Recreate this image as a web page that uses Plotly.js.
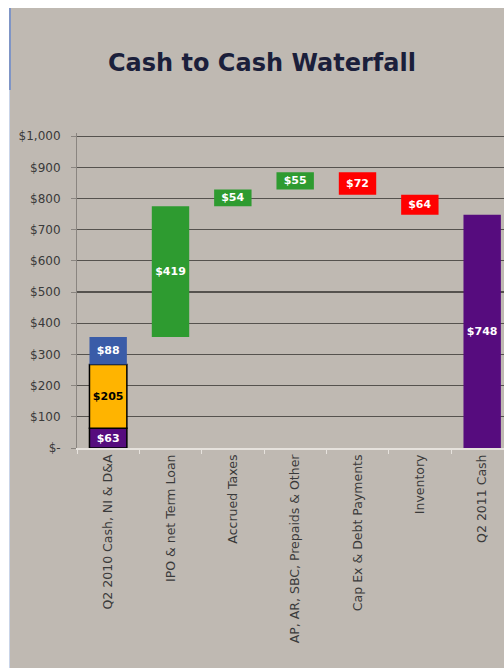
<!DOCTYPE html>
<html>
<head>
<meta charset="utf-8">
<script src="https://cdn.plot.ly/plotly-3.0.1.min.js"></script>
<style>
  html, body { margin: 0; padding: 0; background: #ffffff; width: 504px; height: 668px; overflow: hidden; }
  #frame { position: absolute; left: 9px; top: 8px; width: 495px; height: 660px; background: #bfb9b2; border-left: 1px solid #c9d4e8; }
  #accent { position: absolute; left: 9px; top: 8px; width: 2px; height: 82px; background: #7f95c6; }
  #chart { position: absolute; left: 10px; top: 8px; width: 494px; height: 660px; }
</style>
</head>
<body>
<div id="frame"></div>
<div id="chart"></div>
<div id="accent"></div>
<script>
// ---- data ----
const categories = [
  "Q2 2010 Cash, NI & D&A",
  "IPO & net Term Loan",
  "Accrued Taxes",
  "AP, AR, SBC, Prepaids & Other",
  "Cap Ex & Debt Payments",
  "Inventory",
  "Q2 2011 Cash"
];
const startSegments = [63, 205, 88];          // purple, orange, blue stacked in first column
const startColors = ["#560c7e", "#ffb400", "#3a5ca8"];
const changes = [419, 54, 55, -72, -64];      // columns 2..6
const endCash = 748;                          // last column
const yTickVals = [0, 100, 200, 300, 400, 500, 600, 700, 800, 900, 1000];
const yTickText = ["$-", "$100", "$200", "$300", "$400", "$500", "$600", "$700", "$800", "$900", "$1,000"];

const FONT = "DejaVu Sans, Verdana, sans-serif";
const fmt = v => "$" + Math.abs(v);
const traces = [];

// first stacked column
let run = 0;
startSegments.forEach((v, i) => {
  traces.push({
    type: "bar", x: [categories[0]], y: [v], base: [run],
    marker: { color: startColors[i], line: { color: i < 2 ? "#000000" : startColors[i], width: i < 2 ? 1.5 : 0 } },
    text: [fmt(v)], textposition: "inside", insidetextanchor: "middle", constraintext: "none",
    textfont: { color: i === 1 ? "#000000" : "#ffffff", size: 11, family: FONT, weight: 700 },
    width: 0.6, hoverinfo: "skip"
  });
  run += v;
});

// change columns
const upX = [], upY = [], upB = [], dnX = [], dnY = [], dnB = [];
changes.forEach((v, i) => {
  const cat = categories[i + 1];
  if (v >= 0) { upX.push(cat); upY.push(v); upB.push(run); }
  else { dnX.push(cat); dnY.push(-v); dnB.push(run + v); }
  run += v;
});
const common = {
  type: "bar", textposition: "inside", insidetextanchor: "middle", constraintext: "none",
  textfont: { color: "#ffffff", size: 11, family: FONT, weight: 700 },
  width: 0.6, hoverinfo: "skip"
};
traces.push(Object.assign({}, common, { x: upX, y: upY, base: upB, text: upY.map(fmt), marker: { color: "#2e9b30" } }));
traces.push(Object.assign({}, common, { x: dnX, y: dnY, base: dnB, text: dnY.map(fmt), marker: { color: "#ff0000" } }));
traces.push(Object.assign({}, common, { x: [categories[6]], y: [endCash], base: [0], text: [fmt(endCash)], marker: { color: "#560c7e" } }));

const layout = {
  width: 494, height: 660,
  paper_bgcolor: "rgba(0,0,0,0)", plot_bgcolor: "rgba(0,0,0,0)",
  margin: { l: 67, r: 0, t: 125, b: 220 },
  barmode: "overlay",
  showlegend: false,
  title: {
    text: "<b>Cash to Cash Waterfall</b>",
    font: { family: FONT, size: 24, color: "#1b1f3b" },
    x: 0.51, xanchor: "center", y: 0.918, yanchor: "middle"
  },
  xaxis: {
    type: "category", categoryorder: "array", categoryarray: categories,
    range: [-0.5, 6.35],
    tickangle: -90,
    tickfont: { family: FONT, size: 12.5, color: "#3a3a3a" },
    showline: true, linecolor: "#e6e2dd", linewidth: 1.5,
    ticks: "outside", tickson: "boundaries", ticklen: 4, tickcolor: "#e6e2dd",
    showgrid: false, zeroline: false, fixedrange: true
  },
  yaxis: {
    range: [0, 1010],
    tickmode: "array", tickvals: yTickVals, ticktext: yTickText,
    tickfont: { family: FONT, size: 12, color: "#3a3a3a" },
    ticklabelstandoff: 8,
    showline: true, linecolor: "#8a8580", linewidth: 1,
    ticks: "outside", ticklen: 5, tickcolor: "#8a8580",
    showgrid: true, gridcolor: "#55524e", gridwidth: 1.2,
    zeroline: false, fixedrange: true
  }
};

Plotly.newPlot("chart", traces, layout, { displayModeBar: false, staticPlot: true });
</script>
</body>
</html>
